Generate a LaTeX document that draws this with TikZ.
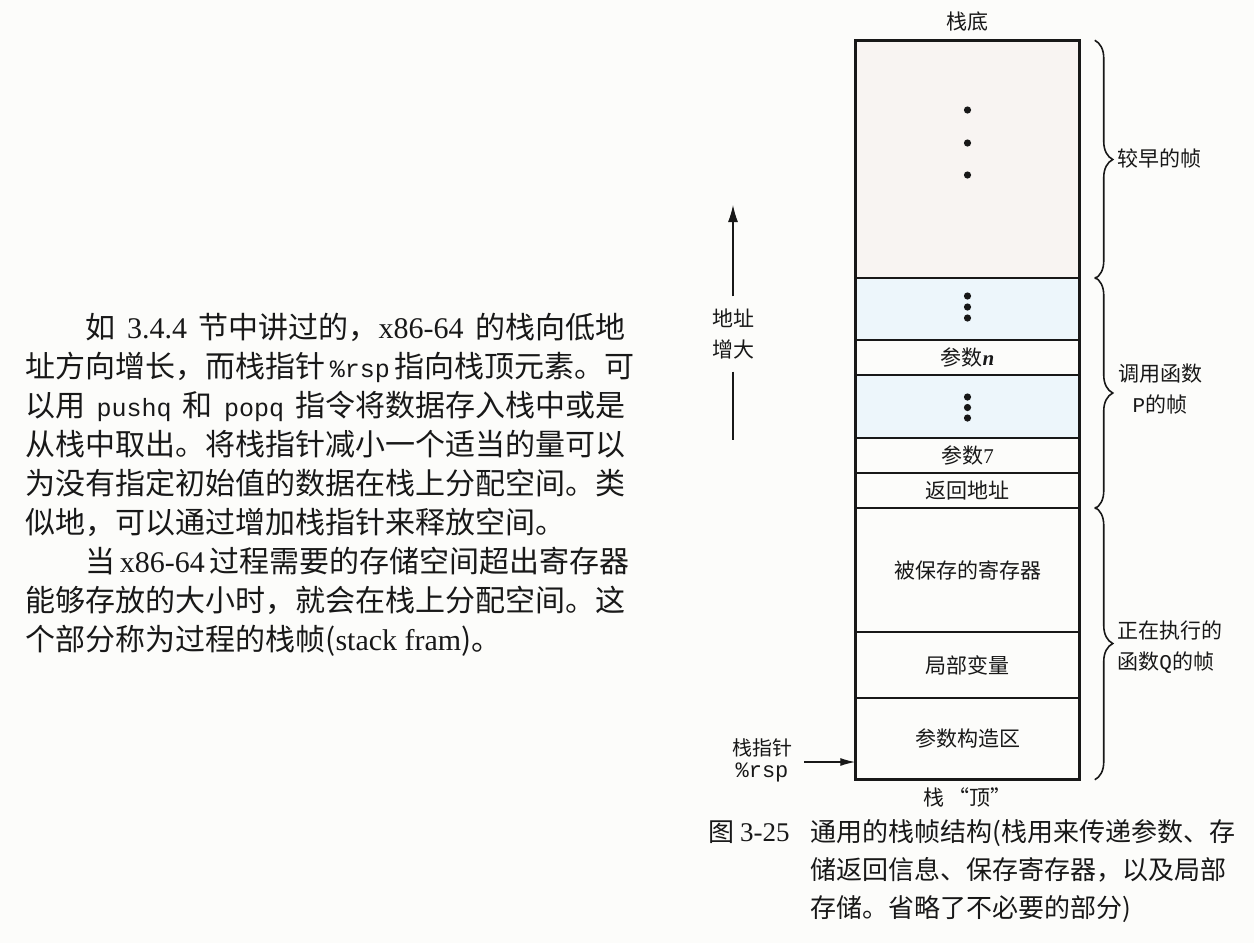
\documentclass[tikz,border=0pt]{standalone}
\usepackage{fontspec}
\setmainfont{Noto Sans CJK SC}
\newfontfamily\monofont{Liberation Mono}
\newfontfamily\latinserif{Liberation Serif}
\usetikzlibrary{arrows.meta,decorations.pathreplacing}

\definecolor{ink}{RGB}{24,24,24}
\definecolor{paper}{RGB}{252,252,250}
\definecolor{earlyfill}{RGB}{248,244,242}
\definecolor{bluefill}{RGB}{237,246,251}

\begin{document}
\begin{tikzpicture}[x=0.5pt,y=-0.5pt,
  every node/.style={text=ink},
  cell/.style={draw=ink, line width=0.75pt, minimum width=111.5pt, inner sep=0pt,
    font=\fontsize{10.5}{12}\selectfont},
  lbl/.style={inner sep=0pt, font=\fontsize{10.5}{15.5}\selectfont},
  bodyline/.style={anchor=west, inner sep=0pt, text height=12.5pt, text depth=2.5pt,
    font=\fontsize{15}{18}\selectfont},
  capline/.style={anchor=west, inner sep=0pt, text height=11pt, text depth=2pt,
    font=\fontsize{13}{16}\selectfont},
  framebrace/.style={draw=ink, line width=0.8pt, decorate,
    decoration={brace, amplitude=9pt}},
  dot/.style={fill=ink},
  tt/.style={}
]
% page
\useasboundingbox (0,0) rectangle (1254,943);
\fill[paper] (0,0) rectangle (1254,943);

% ---------------- body text ----------------
\node[bodyline] (l1) at (85,328) {\makebox[270pt][s]{如 {\latinserif 3.4.4} 节中讲过的，{\latinserif x86-64} 的栈向低地}};
\node[bodyline] (l2) at (25,367) {\makebox[300pt][s]{址方向增长，而栈指针 {\monofont\fontsize{12.5}{15}\selectfont\%rsp} 指向栈顶元素。可}};
\node[bodyline] (l3) at (25,406) {\makebox[300pt][s]{以用 {\monofont\fontsize{12.5}{15}\selectfont pushq} 和 {\monofont\fontsize{12.5}{15}\selectfont popq} 指令将数据存入栈中或是}};
\node[bodyline] (l4) at (25,445) {从栈中取出。将栈指针减小一个适当的量可以};
\node[bodyline] (l5) at (25,484) {为没有指定初始值的数据在栈上分配空间。类};
\node[bodyline] (l6) at (25,523) {似地，可以通过增加栈指针来释放空间。};
\node[bodyline] (l7) at (85,562) {\makebox[270pt][s]{当 {\latinserif x86-64} 过程需要的存储空间超出寄存器}};
\node[bodyline] (l8) at (25,601) {能够存放的大小时，就会在栈上分配空间。这};
\node[bodyline] (l9) at (25,640) {个部分称为过程的栈帧({\latinserif stack fram})。};

% ---------------- stack cells ----------------
\node[cell, fill=earlyfill, minimum height=118.5pt] (early) at (967.5,159.5) {};
\node[cell, fill=bluefill,  minimum height=31pt]    (blue1) at (967.5,309)   {};
\node[cell, minimum height=17.5pt] (argn)  at (967.5,357.5) {参数{\latinserif\bfseries\itshape n}};
\node[cell, fill=bluefill,  minimum height=31.5pt]  (blue2) at (967.5,406.5) {};
\node[cell, minimum height=17.5pt] (arg7)  at (967.5,455.5) {参数{\latinserif 7}};
\node[cell, minimum height=17.5pt] (ret)   at (967.5,490.5) {返回地址};
\node[cell, minimum height=62pt]   (saved) at (967.5,570)   {被保存的寄存器};
\node[cell, minimum height=33pt]   (local) at (967.5,665)   {局部变量};
\node[cell, minimum height=40.5pt] (build) at (967.5,738.5) {参数构造区};
\draw[ink, line width=1pt] (early.north west) rectangle (build.south east);

% ellipsis dots
\foreach \y in {110,143,175} \fill[dot] (967.5,\y) circle (1.8pt);
\foreach \y in {296,307,318} \fill[dot] (967.5,\y) circle (1.8pt);
\foreach \y in {397,407.5,418} \fill[dot] (967.5,\y) circle (1.8pt);

% top and bottom captions of the stack
\node[lbl] (bottomlbl) at (967.5,22) {栈底};
\node[lbl] (toplbl) at (967.5,797) {栈 “顶”};

% ---------------- braces ----------------
\draw[framebrace] ([xshift=7.5pt]early.north east) -- ([xshift=7.5pt]early.south east);
\draw[framebrace] ([xshift=7.5pt]blue1.north east) -- ([xshift=7.5pt]ret.south east);
\draw[framebrace] ([xshift=7.5pt]saved.north east) -- ([xshift=7.5pt]build.south east);
\node[lbl, anchor=west] (earlylbl) at (1117,158) {较早的帧};
\node[lbl, align=center] (plbl) at (1160,389) {调用函数\\{\monofont P}的帧};
\node[lbl, anchor=west, align=left] (qlbl) at (1117,647) {正在执行的\\函数{\monofont Q}的帧};

% ---------------- address arrow ----------------
\node[lbl, align=center, inner ysep=6pt] (addr) at (733,334) {地址\\增大};
\coordinate (arrtop) at (733,205);
\coordinate (arrbot) at (733,440);
\draw[ink, line width=0.6pt, -{Latex[length=8.5pt,width=5pt]}] (addr.north) -- (arrtop);
\draw[ink, line width=0.6pt] (addr.south) -- (arrbot);

% ---------------- stack pointer ----------------
\node[inner sep=0pt, align=center, font=\fontsize{10}{11}\selectfont] (sp) at (762,760)
  {栈指针\\{\monofont\fontsize{11}{11}\selectfont\%rsp}};
\coordinate (spstart) at (804,762);
\draw[ink, line width=0.6pt, -{Latex[length=7.5pt,width=4pt]}] (spstart) -- (spstart -| build.west);

% ---------------- figure caption ----------------
\node[capline] (capnum) at (708,832) {图 {\latinserif\fontsize{13.5}{16}\selectfont 3-25}};
\node[capline] (cap1) at (810,832) {通用的栈帧结构(栈用来传递参数、存};
\node[capline] (cap2) at (810,870) {储返回信息、保存寄存器，以及局部};
\node[capline] (cap3) at (810,908) {存储。省略了不必要的部分)};
\end{tikzpicture}
\end{document}
